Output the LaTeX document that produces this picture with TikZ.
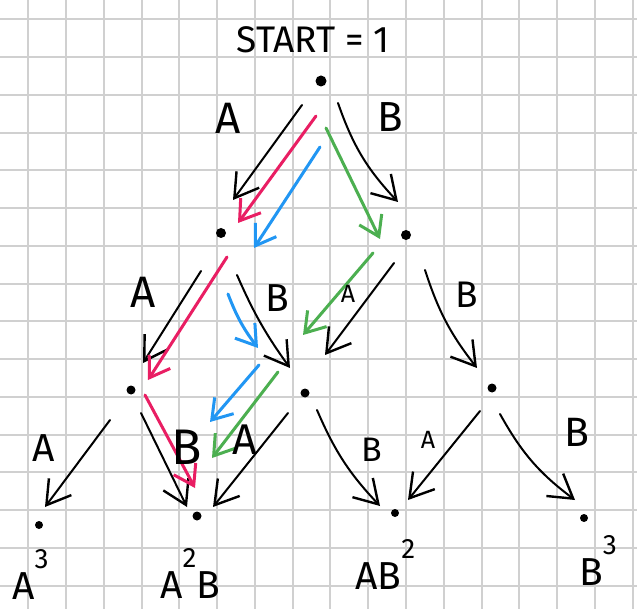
\documentclass[tikz,border=0pt]{standalone}
\usepackage{fontspec}
\setmainfont{Fira Sans}
\usetikzlibrary{arrows.meta}
\definecolor{gridgray}{HTML}{D0D0D0}
\definecolor{pathred}{HTML}{E91E63}
\definecolor{pathblue}{HTML}{2196F3}
\definecolor{pathgreen}{HTML}{4CAF50}
\newcommand{\hsup}[1]{\raisebox{31pt}{\fontsize{28}{28}\selectfont #1}}

\begin{document}
\begin{tikzpicture}[x=1pt,y=-1pt,
  gridline/.style={gridgray,line width=2pt},
  dot/.style={circle,fill,inner sep=0pt,minimum size=#1},dot/.default=9pt,
  lbl/.style={inner sep=0pt,font=\fontsize{#1}{#1}\selectfont},lbl/.default=42,
  word/.style={inner sep=0pt,anchor=base west,font=\fontsize{39}{39}\selectfont},
  arr/.style={-{Straight Barb[length=23pt,width=28pt,line width=2.4pt]},line width=2pt,line cap=round},
  col/.style={-{Straight Barb[length=19pt,width=25pt,line width=3pt]},line width=3pt,line cap=round,#1},
  col/.default=black]
\useasboundingbox (0,0) rectangle (637,609);
% squared paper
\fill[white] (0,0) rectangle (637,609);
\foreach \gx in {0,...,16} \draw[gridline] (28.4+37.76*\gx,0) -- (28.4+37.76*\gx,609);
\foreach \gy in {0,...,15} \draw[gridline] (0,19.3+37.76*\gy) -- (637,19.3+37.76*\gy);

% tree of products
\node[lbl=37] (title) at (313,40) {START = 1};
\node[dot=11pt] (start) at (321,81) {};
\node[dot=10pt] (a) at (221,233) {};
\node[dot=10pt] (b) at (406,235) {};
\node[dot] (aa) at (131,390) {};
\node[dot] (ab) at (305,393) {};
\node[dot] (bb) at (492,388) {};
\node[dot=8pt] (aaa) at (39,525) {};
\node[dot=9pt] (aab) at (197,516) {};
\node[dot=8pt] (abb) at (395,513) {};
\node[dot=8pt] (bbb) at (584,518) {};

% results
\node[word] (waaa) at (12,599) {A\hsup{3}};
\node[word] (waab) at (160,598) {A\hsup{2}B};
\node[word] (wabb) at (355,589) {AB\hsup{2}};
\node[word] (wbbb) at (579,585) {B\hsup{3}};

% black branches
\draw[arr] ([shift={(-19,24)}]start.center) -- ([shift={(12,-33)}]a.center);
\draw[arr] ([shift={(17,22)}]start.center) to[bend right=12] ([shift={(-8,-33)}]b.center);
\draw[arr] ([shift={(-20,38)}]a.center) -- ([shift={(12,-27)}]aa.center);
\draw[arr] ([shift={(16,42)}]a.center) to[bend right=6] ([shift={(-15,-25)}]ab.center);
\draw[arr] ([shift={(-12,28)}]b.center) -- ([shift={(20,-38)}]ab.center);
\draw[arr] ([shift={(19,35)}]b.center) to[bend right=10] ([shift={(-15,-20)}]bb.center);
\draw[arr] ([shift={(-21,30)}]aa.center) -- ([shift={(6,-18)}]aaa.center);
\draw[arr] ([shift={(10,23)}]aa.center) -- ([shift={(-10,-9)}]aab.center);
\draw[arr] ([shift={(-17,20)}]ab.center) -- ([shift={(16,-9)}]aab.center);
\draw[arr] ([shift={(12,17)}]ab.center) to[bend right=10] ([shift={(-15,-7)}]abb.center);
\draw[arr] ([shift={(-12,23)}]bb.center) -- ([shift={(13,-13)}]abb.center);
\draw[arr] ([shift={(8,26)}]bb.center) to[bend right=12] ([shift={(-9,-18)}]bbb.center);

% coloured paths to A^2B
\draw[col=pathred] ([shift={(-5,35)}]start.center) -- ([shift={(17,-10)}]a.center);
\draw[col=pathred] ([shift={(6,24)}]a.center) -- ([shift={(17,-10)}]aa.center);
\draw[col=pathred] ([shift={(14,5)}]aa.center) -- ([shift={(-2,-28)}]aab.center);
\draw[col=pathblue] ([shift={(-1,66)}]start.center) -- ([shift={(33,15)}]a.center);
\draw[col=pathblue] ([shift={(7,61)}]a.center) to[bend right=8] ([shift={(-47,-45)}]ab.center);
\draw[col=pathblue] ([shift={(-46,-28)}]ab.center) -- ([shift={(13,-94)}]aab.center);
\draw[col=pathgreen] ([shift={(5,47)}]start.center) -- ([shift={(-26,4)}]b.center);
\draw[col=pathgreen] ([shift={(-33,18)}]b.center) -- ([shift={(-2,-58)}]ab.center);
\draw[col=pathgreen] ([shift={(-27,-21)}]ab.center) -- ([shift={(15,-58)}]aab.center);

% branch labels
\node[lbl=44] (la) at (228,118) {A};
\node[lbl=42] (lb) at (390,117) {B};
\node[lbl=44] (laa) at (143,292) {A};
\node[lbl=39] (lab) at (277,298) {B};
\node[lbl=25] (lba) at (348,294) {A};
\node[lbl=37] (lbb) at (467,295) {B};
\node[lbl=39] (laaa) at (44,448) {A};
\node[lbl=50] (laab) at (187,447) {B};
\node[lbl=43] (laba) at (245,440) {A};
\node[lbl=34] (labb) at (372,450) {B};
\node[lbl=25] (lbba) at (428,440) {A};
\node[lbl=41] (lbbb) at (577,432) {B};
\end{tikzpicture}
\end{document}
